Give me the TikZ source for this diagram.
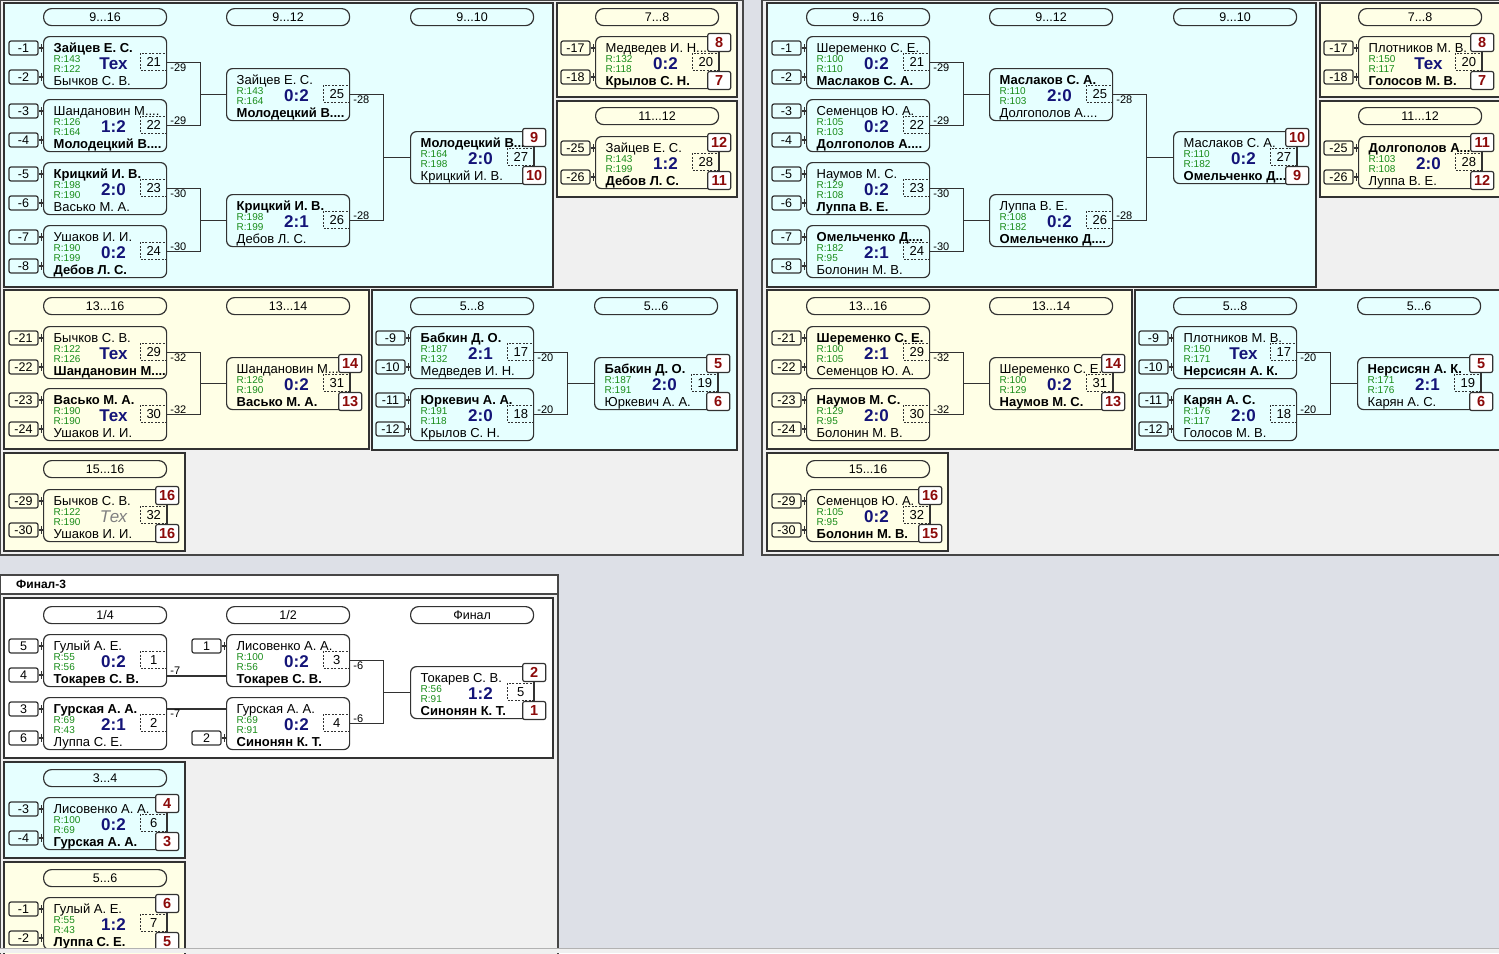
\documentclass[tikz,border=0pt]{standalone}
\usepackage{fontspec}
\setmainfont{Liberation Sans}
\definecolor{bgc}{RGB}{221,224,231}
\definecolor{grp}{RGB}{240,240,240}
\definecolor{cyn}{RGB}{230,255,255}
\definecolor{crm}{RGB}{255,255,230}
\definecolor{lnc}{RGB}{50,50,50}
\definecolor{grn}{RGB}{25,140,25}
\definecolor{nav}{RGB}{20,20,120}
\definecolor{dred}{RGB}{140,10,10}
\newcommand\Wn[1]{\textbf{#1}}
\newcommand\GTx{{\normalfont\fontsize{17}{17}\selectfont\itshape\color{gray}Тех}}
\tikzset{
 ln/.style={draw=lnc, line width=1.2pt},
 mbox/.style={draw=lnc, line width=1.2pt, rounded corners=6pt, minimum width=123pt, minimum height=52pt, inner sep=0pt},
 nmst/.style={inner sep=0pt, font=\fontsize{13}{13}\selectfont},
 rst/.style={inner sep=0pt, text=grn, font=\fontsize{10}{10}\selectfont},
 scst/.style={inner sep=0pt, text=nav, font=\fontsize{17}{17}\selectfont\bfseries},
 dbox/.style={draw=lnc, line width=0.9pt, dash pattern=on 2pt off 1.5pt, minimum width=26pt, minimum height=17.5pt, inner sep=0pt, font=\fontsize{13}{13}\selectfont},
 sbox/.style={draw=lnc, line width=1.2pt, rounded corners=2pt, minimum width=29pt, minimum height=14pt, inner sep=0pt, font=\fontsize{12.5}{12.5}\selectfont},
 rbox/.style={draw=lnc, fill=white, line width=1.2pt, rounded corners=2pt, minimum width=23pt, minimum height=18pt, inner sep=0pt, text=dred, font=\fontsize{14.5}{14.5}\selectfont\bfseries},
 hbox/.style={draw=lnc, line width=1.2pt, rounded corners=8pt, minimum width=123pt, minimum height=17pt, inner sep=0pt, font=\fontsize{12.5}{12.5}\selectfont},
 clab/.style={inner sep=1pt, font=\fontsize{11}{11}\selectfont},
 pnl/.style={draw=lnc, line width=1.2pt},
 grpbox/.style={fill=grp, draw=gray!55!black, line width=1.2pt},
}
% match box: name, x, y, top name, R1, R2, score, bottom name, number
\newcommand\mt[9]{%
 \node[mbox,anchor=north west] (#1) at (#2,#3) {};
 \node[nmst,anchor=base west] (#1-a) at ([shift={(10.5,16)}]#1.north west) {#4};
 \node[rst,anchor=base west] (#1-r) at ([shift={(10.5,26)}]#1.north west) {R:#5};
 \node[rst,anchor=base west] (#1-s) at ([shift={(10.5,36)}]#1.north west) {R:#6};
 \node[scst] (#1-c) at ([shift={(70.5,27.5)}]#1.north west) {#7};
 \node[nmst,anchor=base west] (#1-b) at ([shift={(10.5,49)}]#1.north west) {#8};
 \node[dbox,anchor=north east] (#1-n) at ([shift={(0,16.5)}]#1.north east) {#9};
}
% single seed: node name, match, y offset, text
\newcommand\sd[4]{%
 \node[sbox] (#1) at ([shift={(-19.5,#3)}]#2.north west) {#4};
 \draw[ln] (#1.east) -- (#1.east -| #2.west);
 \draw[ln] ([shift={(2.5,-4)}]#1.east) -- ([shift={(2.5,4)}]#1.east);
}
\newcommand\sds[3]{\sd{#1-p}{#1}{12}{#2}\sd{#1-q}{#1}{41}{#3}}
% placement boxes
\newcommand\plc[3]{%
 \node[rbox] (#1-u) at ([shift={(0,6.5)}]#1.north east) {#2};
 \node[rbox] (#1-d) at ([shift={(0,44.5)}]#1.north east) {#3};
 \draw[ln] (#1-u) -- (#1-d);
}
% bracket connector
\newcommand\br[4]{%
 \draw[ln] (#1.east) -- ++(33,0) |- (#3.west);
 \draw[ln] (#2.east) -- ++(33,0) |- (#3.west);
 \node[clab,anchor=north west] (#1-l) at ([shift={(2,0)}]#1.east) {#4};
 \node[clab,anchor=south west] (#2-l) at ([shift={(2,0)}]#2.east) {#4};
}
\newcommand\hd[4]{\node[hbox,anchor=north west] (#1) at (#2,#3) {#4};}
\begin{document}
\begin{tikzpicture}[x=1pt,y=-1pt]
\useasboundingbox (0,0) rectangle (1499,953);
\clip (0,0) rectangle (1499,953);
\fill[bgc] (0,0) rectangle (1499,953);
% group containers
\draw[grpbox] (0.6,0.6) rectangle (743,555);
\draw[grpbox] (762,0.6) rectangle (1530,555);
\draw[grpbox] (0.6,575) rectangle (558,970);

% ================= GROUP 1 =================
\draw[pnl, fill=cyn] (4,3) rectangle (553,287);
\draw[pnl, fill=crm] (557,3) rectangle (737,97);
\draw[pnl, fill=crm] (557,101) rectangle (737,197);
\draw[pnl, fill=crm] (4,290) rectangle (369,449);
\draw[pnl, fill=cyn] (372,290) rectangle (737,450);
\draw[pnl, fill=crm] (4,453) rectangle (185,551);
\hd{ga1}{43}{8}{9...16}
\hd{ga2}{226}{8}{9...12}
\hd{ga3}{410}{8}{9...10}
\hd{ga4}{595}{8}{7...8}
\hd{ga5}{595}{107}{11...12}
\hd{ga6}{43}{297}{13...16}
\hd{ga7}{226}{297}{13...14}
\hd{ga8}{410}{297}{5...8}
\hd{ga9}{594}{297}{5...6}
\hd{ga10}{43}{460}{15...16}
\mt{g21}{43}{36}{\Wn{Зайцев Е. С.}}{143}{122}{Тех}{Бычков С. В.}{21}
\mt{g22}{43}{99}{Шандановин М....}{126}{164}{1:2}{\Wn{Молодецкий В....}}{22}
\mt{g23}{43}{162}{\Wn{Крицкий И. В.}}{198}{190}{2:0}{Васько М. А.}{23}
\mt{g24}{43}{225}{Ушаков И. И.}{190}{199}{0:2}{\Wn{Дебов Л. С.}}{24}
\mt{g25}{226}{68}{Зайцев Е. С.}{143}{164}{0:2}{\Wn{Молодецкий В....}}{25}
\mt{g26}{226}{194}{\Wn{Крицкий И. В.}}{198}{199}{2:1}{Дебов Л. С.}{26}
\mt{g27}{410}{131}{\Wn{Молодецкий В....}}{164}{198}{2:0}{Крицкий И. В.}{27}
\mt{g20}{595}{36}{Медведев И. Н....}{132}{118}{0:2}{\Wn{Крылов С. Н.}}{20}
\mt{g28}{595}{136}{Зайцев Е. С.}{143}{199}{1:2}{\Wn{Дебов Л. С.}}{28}
\mt{g29}{43}{326}{Бычков С. В.}{122}{126}{Тех}{\Wn{Шандановин М....}}{29}
\mt{g30}{43}{388}{\Wn{Васько М. А.}}{190}{190}{Тех}{Ушаков И. И.}{30}
\mt{g31}{226}{357}{Шандановин М....}{126}{190}{0:2}{\Wn{Васько М. А.}}{31}
\mt{g32}{43}{489}{Бычков С. В.}{122}{190}{\GTx}{Ушаков И. И.}{32}
\mt{g17}{410}{326}{\Wn{Бабкин Д. О.}}{187}{132}{2:1}{Медведев И. Н.}{17}
\mt{g18}{410}{388}{\Wn{Юркевич А. А.}}{191}{118}{2:0}{Крылов С. Н.}{18}
\mt{g19}{594}{357}{\Wn{Бабкин Д. О.}}{187}{191}{2:0}{Юркевич А. А.}{19}
\sds{g21}{-1}{-2}
\sds{g22}{-3}{-4}
\sds{g23}{-5}{-6}
\sds{g24}{-7}{-8}
\sds{g20}{-17}{-18}
\sds{g28}{-25}{-26}
\sds{g29}{-21}{-22}
\sds{g30}{-23}{-24}
\sds{g32}{-29}{-30}
\sds{g17}{-9}{-10}
\sds{g18}{-11}{-12}
\br{g21}{g22}{g25}{-29}
\br{g23}{g24}{g26}{-30}
\br{g25}{g26}{g27}{-28}
\br{g29}{g30}{g31}{-32}
\br{g17}{g18}{g19}{-20}
\plc{g27}{9}{10}
\plc{g20}{8}{7}
\plc{g28}{12}{11}
\plc{g31}{14}{13}
\plc{g32}{16}{16}
\plc{g19}{5}{6}

% ================= GROUP 2 =================
\begin{scope}[xshift=763pt]
\draw[pnl, fill=cyn] (4,3) rectangle (553,287);
\draw[pnl, fill=crm] (557,3) rectangle (737,97);
\draw[pnl, fill=crm] (557,101) rectangle (737,197);
\draw[pnl, fill=crm] (4,290) rectangle (369,449);
\draw[pnl, fill=cyn] (372,290) rectangle (760,450);
\draw[pnl, fill=crm] (4,453) rectangle (185,551);
\hd{ha1}{43}{8}{9...16}
\hd{ha2}{226}{8}{9...12}
\hd{ha3}{410}{8}{9...10}
\hd{ha4}{595}{8}{7...8}
\hd{ha5}{595}{107}{11...12}
\hd{ha6}{43}{297}{13...16}
\hd{ha7}{226}{297}{13...14}
\hd{ha8}{410}{297}{5...8}
\hd{ha9}{594}{297}{5...6}
\hd{ha10}{43}{460}{15...16}
\mt{h21}{43}{36}{Шеременко С. Е.}{100}{110}{0:2}{\Wn{Маслаков С. А.}}{21}
\mt{h22}{43}{99}{Семенцов Ю. А.}{105}{103}{0:2}{\Wn{Долгополов А....}}{22}
\mt{h23}{43}{162}{Наумов М. С.}{129}{108}{0:2}{\Wn{Луппа В. Е.}}{23}
\mt{h24}{43}{225}{\Wn{Омельченко Д....}}{182}{95}{2:1}{Болонин М. В.}{24}
\mt{h25}{226}{68}{\Wn{Маслаков С. А.}}{110}{103}{2:0}{Долгополов А....}{25}
\mt{h26}{226}{194}{Луппа В. Е.}{108}{182}{0:2}{\Wn{Омельченко Д....}}{26}
\mt{h27}{410}{131}{Маслаков С. А.}{110}{182}{0:2}{\Wn{Омельченко Д....}}{27}
\mt{h20}{595}{36}{Плотников М. В.}{150}{117}{Тех}{\Wn{Голосов М. В.}}{20}
\mt{h28}{595}{136}{\Wn{Долгополов А....}}{103}{108}{2:0}{Луппа В. Е.}{28}
\mt{h29}{43}{326}{\Wn{Шеременко С. Е.}}{100}{105}{2:1}{Семенцов Ю. А.}{29}
\mt{h30}{43}{388}{\Wn{Наумов М. С.}}{129}{95}{2:0}{Болонин М. В.}{30}
\mt{h31}{226}{357}{Шеременко С. Е.}{100}{129}{0:2}{\Wn{Наумов М. С.}}{31}
\mt{h32}{43}{489}{Семенцов Ю. А.}{105}{95}{0:2}{\Wn{Болонин М. В.}}{32}
\mt{h17}{410}{326}{Плотников М. В.}{150}{171}{Тех}{\Wn{Нерсисян А. К.}}{17}
\mt{h18}{410}{388}{\Wn{Карян А. С.}}{176}{117}{2:0}{Голосов М. В.}{18}
\mt{h19}{594}{357}{\Wn{Нерсисян А. К.}}{171}{176}{2:1}{Карян А. С.}{19}
\sds{h21}{-1}{-2}
\sds{h22}{-3}{-4}
\sds{h23}{-5}{-6}
\sds{h24}{-7}{-8}
\sds{h20}{-17}{-18}
\sds{h28}{-25}{-26}
\sds{h29}{-21}{-22}
\sds{h30}{-23}{-24}
\sds{h32}{-29}{-30}
\sds{h17}{-9}{-10}
\sds{h18}{-11}{-12}
\br{h21}{h22}{h25}{-29}
\br{h23}{h24}{h26}{-30}
\br{h25}{h26}{h27}{-28}
\br{h29}{h30}{h31}{-32}
\br{h17}{h18}{h19}{-20}
\plc{h27}{10}{9}
\plc{h20}{8}{7}
\plc{h28}{11}{12}
\plc{h31}{14}{13}
\plc{h32}{16}{15}
\plc{h19}{5}{6}
\end{scope}

% ================= GROUP 3: FINALS =================
\draw[fill=white, draw=gray!55!black, line width=1.2pt] (0.6,575) rectangle (558,594);
\node[anchor=west, inner sep=0pt, font=\fontsize{12}{12}\selectfont\bfseries] (ttl) at (16,584.5) {Финал-3};
\draw[pnl, fill=white] (4,598) rectangle (553,758);
\hd{fh1}{43}{606}{1/4}
\hd{fh2}{226}{606}{1/2}
\hd{fh3}{410}{606}{Финал}
\mt{f1}{43}{634}{Гулый А. Е.}{55}{56}{0:2}{\Wn{Токарев С. В.}}{1}
\mt{f2}{43}{697}{\Wn{Гурская А. А.}}{69}{43}{2:1}{Луппа С. Е.}{2}
\mt{f3}{226}{634}{Лисовенко А. А.}{100}{56}{0:2}{\Wn{Токарев С. В.}}{3}
\mt{f4}{226}{697}{Гурская А. А.}{69}{91}{0:2}{\Wn{Синонян К. Т.}}{4}
\mt{f5}{410}{666}{Токарев С. В.}{56}{91}{1:2}{\Wn{Синонян К. Т.}}{5}
\sds{f1}{5}{4}
\sds{f2}{3}{6}
\sd{f3-p}{f3}{12}{1}
\sd{f4-q}{f4}{41}{2}
\draw[ln] ([shift={(0,42)}]f1.north east) -- ([shift={(0,42)}]f3.north west);
\draw[ln] ([shift={(0,12)}]f2.north east) -- ([shift={(0,12)}]f4.north west);
\node[clab,anchor=south west] (f1-l) at ([shift={(2,42)}]f1.north east) {-7};
\node[clab,anchor=north west] (f2-l) at ([shift={(2,12)}]f2.north east) {-7};
\br{f3}{f4}{f5}{-6}
\plc{f5}{2}{1}
\draw[pnl, fill=cyn] (4,762) rectangle (185,858);
\hd{fh4}{43}{769}{3...4}
\mt{f6}{43}{797}{Лисовенко А. А.}{100}{69}{0:2}{\Wn{Гурская А. А.}}{6}
\sds{f6}{-3}{-4}
\plc{f6}{4}{3}
\draw[pnl, fill=crm] (4,862) rectangle (185,975);
\hd{fh5}{43}{869}{5...6}
\mt{f7}{43}{897}{Гулый А. Е.}{55}{43}{1:2}{\Wn{Луппа С. Е.}}{7}
\sds{f7}{-1}{-2}
\plc{f7}{6}{5}
% bottom strip
\fill[gray!12] (0,948.5) rectangle (1499,953);
\draw[gray!60, line width=1pt] (0,948.5) -- (1499,948.5);
\end{tikzpicture}
\end{document}
